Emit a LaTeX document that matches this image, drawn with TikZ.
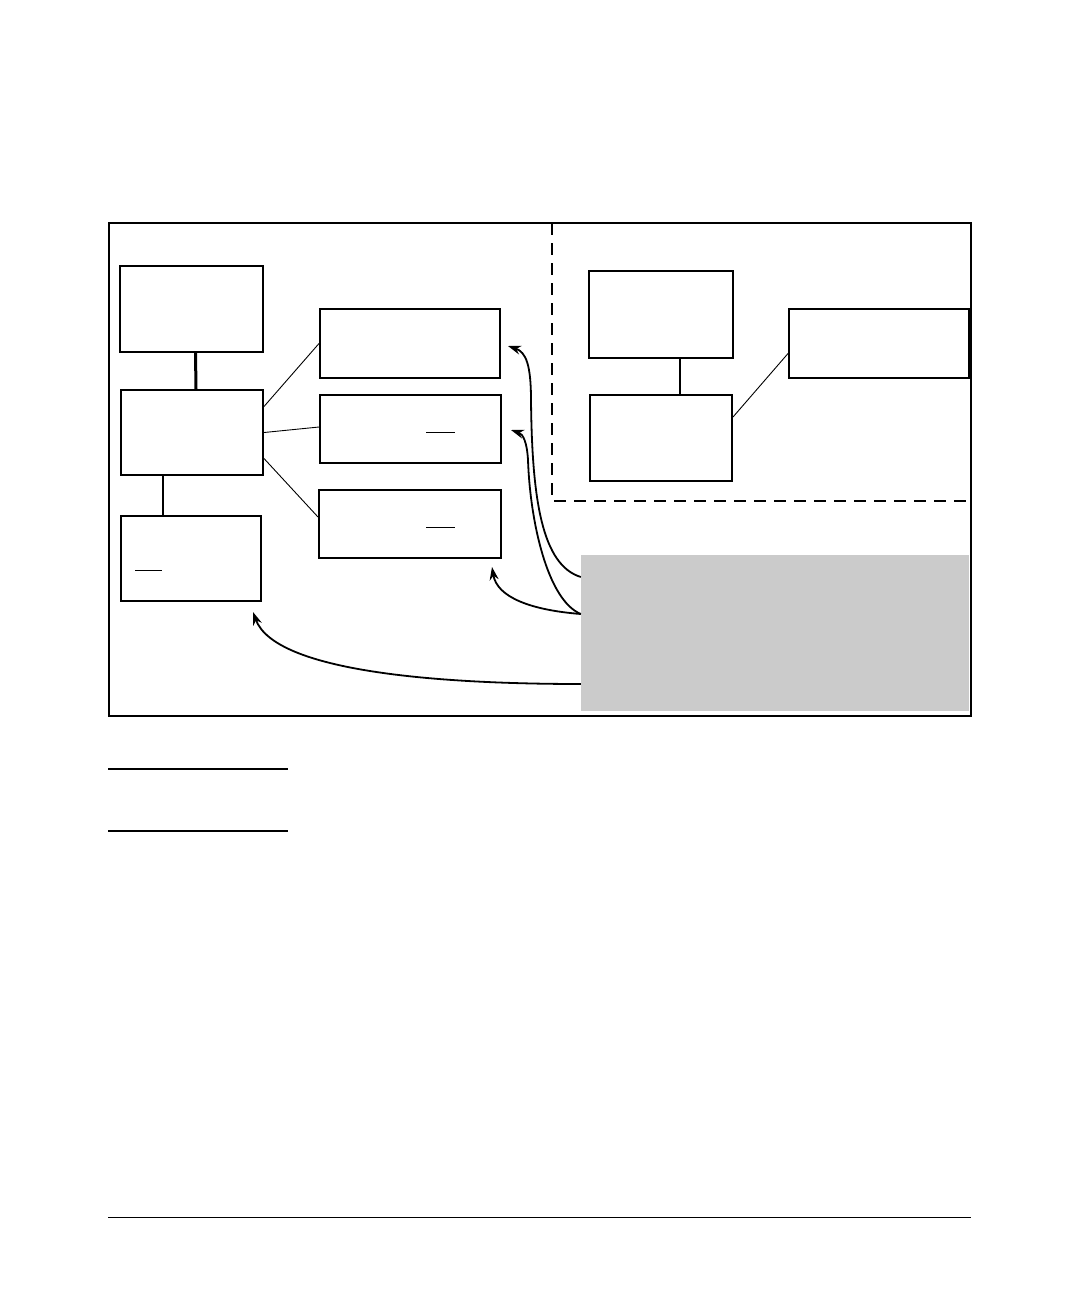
\documentclass[tikz,border=0pt]{standalone}
\usepackage{tikz}
\usetikzlibrary{arrows.meta, positioning, calc}
\definecolor{panelgray}{RGB}{203,203,203}
\tikzset{
  figure/.style={
	x=1pt, y=-1pt, % one unit is one pixel of the page, y runs downwards
	box/.style={draw, line width=2pt, inner sep=0pt}, % the plain white boxes
	link/.style={line width=0.9pt}, % thin lines between boxes
	pointer/.style={-{Stealth[length=13pt,width=9pt]}, line width=1.8pt}, % the curved arrows
  }
}
\begin{document}
\begin{tikzpicture}[figure]
\useasboundingbox (0,0) rectangle (1080,1296);
% frame and dashed area
\draw[line width=2.4pt] (109,223) rectangle (971,716);
\draw[line width=2pt, dash pattern=on 12pt off 8pt] (552,223) -- (552,501) -- (971,501);
% left group
\node[box, minimum width=143, minimum height=86] (top) at (191.5,309) {};
\node[box, minimum width=142, minimum height=85] (mid) at (192,432.5) {};
\node[box, minimum width=140, minimum height=85] (low) at (191,558.5) {};
\node[box, minimum width=180, minimum height=69] (d1) at (410,343.5) {};
\node[box, minimum width=181, minimum height=68] (d2) at (410.5,429) {};
\node[box, minimum width=182, minimum height=68] (d3) at (410,524) {};
% right group
\node[box, minimum width=144, minimum height=87] (rtop) at (661,314.5) {};
\node[box, minimum width=142, minimum height=86] (rmid) at (661,438) {};
\node[box, minimum width=180, minimum height=69] (rside) at (879,343.5) {};
% grey panel
\node[fill=panelgray, minimum width=388, minimum height=156, inner sep=0pt] (note) at (775,633) {};
% short marks inside boxes
\draw[link] ($(low.west)+(15,12)$) -- ++(27,0);
\draw[link] ($(d2.center)+(15.5,3)$) -- ++(29,0);
\draw[link] ($(d3.center)+(16,3)$) -- ++(29,0);
% links between boxes
\draw[line width=3pt] ([xshift=4]top.south) -- ([xshift=4]mid.north);
\draw[line width=2pt] ([xshift=-29]mid.south) -- ([xshift=-28]low.north);
\draw[link] ([yshift=26]mid.east) -- (d1.west);
\draw[link] (mid.east) -- ([yshift=2]d2.west);
\draw[link] ([yshift=-26]mid.east) -- ([yshift=7]d3.west);
\draw[line width=2pt] ([xshift=19]rtop.south) -- ([xshift=19]rmid.north);
\draw[link] ([yshift=21]rmid.east) -- ([yshift=-10]rside.west);
% arrow tips
\coordinate (t1) at (508,346);
\coordinate (t2) at (511,430);
\coordinate (t3) at (492,567);
\coordinate (t4) at (253,612);
\draw[pointer] ([yshift=56]note.west) .. controls (542,565) and (532,500) .. (531,400)
	.. controls (531,365) and (526,352) .. (t1);
\draw[pointer] ([yshift=19]note.west) .. controls (547,600) and (530,520) .. (528,460)
	.. controls (527,442) and (523,434) .. (t2);
\draw[pointer] ([yshift=19]note.west) .. controls (530,610) and (497,597) .. (t3);
\draw[pointer] ([yshift=-51]note.west) .. controls (440,684) and (275,672) .. (t4);
% rules under the figure
\draw[line width=2.4pt] (108,769) -- (288,769);
\draw[line width=1.2pt] (108,831) -- (288,831);
\draw[line width=1pt] (108,1217) -- (971,1217);
\end{tikzpicture}
\end{document}
